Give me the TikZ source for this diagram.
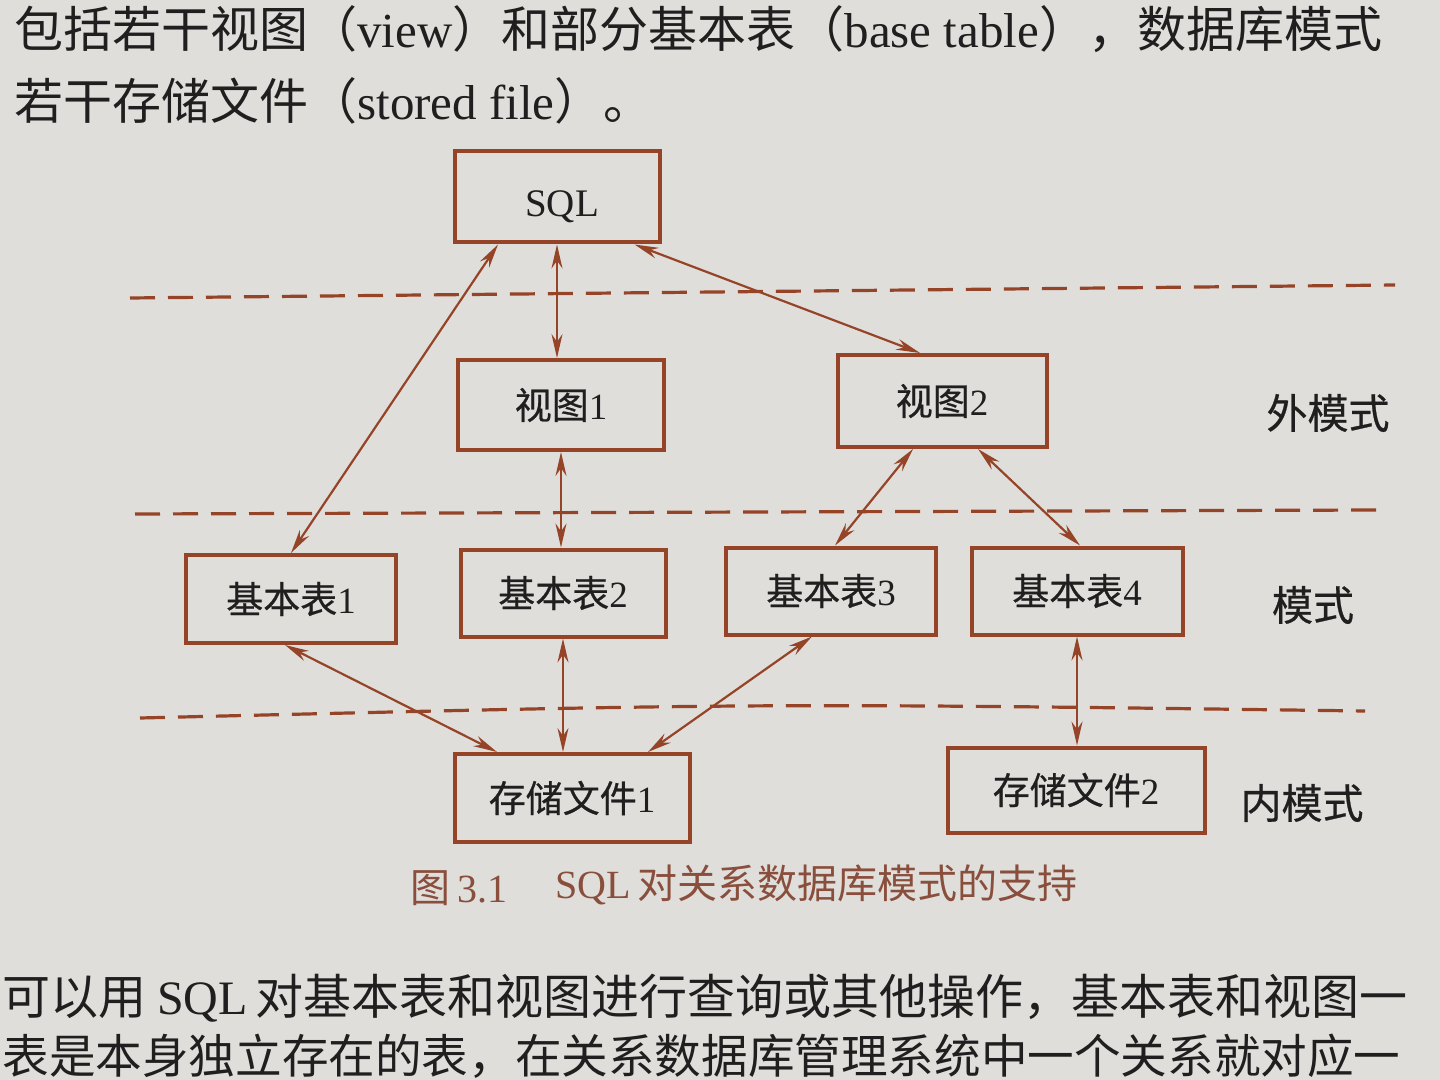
\documentclass[tikz,border=0pt]{standalone}
\usepackage{fontspec}
\setmainfont{Liberation Serif}
\newfontfamily\cjk{Noto Sans CJK SC}
\newfontfamily\cjkb[FakeBold=0.6]{Noto Sans CJK SC}
\usetikzlibrary{arrows.meta,calc}
\definecolor{brn}{RGB}{150,68,40}
\definecolor{paper}{RGB}{223,222,219}
\definecolor{ink}{RGB}{32,30,30}
\definecolor{capc}{RGB}{138,78,60}
\begin{document}
\begin{tikzpicture}[x=0.5pt,y=-0.5pt,
  box/.style={draw=brn,line width=2pt,inner sep=0pt,text=ink,
    font=\fontsize{18.5}{20}\selectfont},
  conn/.style={draw=brn,line width=1.1pt,
    {Stealth[length=12pt,width=5.5pt]}-{Stealth[length=12pt,width=5.5pt]}},
  dsh/.style={draw=brn,line width=1.6pt,dash pattern=on 12.5pt off 6.5pt},
  layer/.style={text=ink,font=\fontsize{20.5}{22}\selectfont\cjkb},
  body/.style={text=ink,inner sep=0pt,font=\fontsize{24.5}{26}\selectfont},
  bodyb/.style={text=ink,inner sep=0pt,font=\fontsize{23.3}{25}\selectfont},
  capt/.style={text=capc,inner sep=0pt,font=\fontsize{20}{22}\selectfont}]
\useasboundingbox (0,0) rectangle (1440,1080);
\fill[paper] (0,0) rectangle (1440,1080);

% body text (page)
\node[body,anchor=west] (t1) at (14,29) {{\cjk 包括若干视图（}view{\cjk ）和部分基本表（}base table{\cjk ），数据库模式}};
\node[body,anchor=west] (t2) at (14,101) {{\cjk 若干存储文件（}stored file{\cjk ）。}};
\node[body,anchor=west,font=\fontsize{24}{26}\selectfont] (t3) at (2,998) {{\cjk 可以用 }SQL{\cjk \,对基本表和视图进行查询或其他操作，基本表和视图一}};
\node[bodyb,anchor=west] (t4) at (2,1056) {{\cjk 表是本身独立存在的表，在关系数据库管理系统中一个关系就对应一}};

% dashed level separators
\coordinate (d1l) at (130,298); \coordinate (d1r) at (1395,285);
\coordinate (d2l) at (135,514); \coordinate (d2r) at (1380,510);
\coordinate (d3l) at (140,718); \coordinate (d3m) at (760,703); \coordinate (d3r) at (1365,711);
\draw[dsh] (d1l) -- (d1r);
\draw[dsh] (d2l) -- (d2r);
\draw[dsh] (d3l) .. controls (d3m) .. (d3r);

% boxes
\node[box,minimum width=102.5pt,minimum height=45.5pt] (sql) at (557,197) {};
\node[text=ink,inner sep=0pt,font=\fontsize{19.5}{21}\selectfont] (sqlt) at (562,207) {SQL};
\node[box,minimum width=103pt,minimum height=45pt] (v1) at (561,405) {{\cjkb 视图}1};
\node[box,minimum width=104.5pt,minimum height=46pt] (v2) at (942,401) {{\cjkb 视图}2};
\node[box,minimum width=105pt,minimum height=44pt] (b1) at (291,599) {{\cjkb 基本表}1};
\node[box,minimum width=102.5pt,minimum height=43.5pt] (b2) at (563,593) {{\cjkb 基本表}2};
\node[box,minimum width=105pt,minimum height=43.5pt] (b3) at (831,591) {{\cjkb 基本表}3};
\node[box,minimum width=105.5pt,minimum height=43.5pt] (b4) at (1077,591) {{\cjkb 基本表}4};
\node[box,minimum width=117.5pt,minimum height=44pt] (f1) at (572,798) {{\cjkb 存储文件}1};
\node[box,minimum width=128.5pt,minimum height=42.5pt] (f2) at (1076,790) {{\cjkb 存储文件}2};

% layer labels
\node[layer] (lo) at (1328,413) {外模式};
\node[layer] (lm) at (1313,605) {模式};
\node[layer] (li) at (1302,803) {内模式};

% connectors
\draw[conn] ($(sql.south)+(-59,0)$) -- (b1.north);
\draw[conn] (sql.south) -- (sql.south |- v1.north);
\draw[conn] ($(sql.south east)+(-27,0)$) -- ($(v2.north)+(-22,0)$);
\draw[conn] (v1.south) -- (v1.south |- b2.north);
\draw[conn] ($(v2.south)+(-29,0)$) -- ($(b3.north)+(4,0)$);
\draw[conn] ($(v2.south)+(36,0)$) -- ($(b4.north)+(3,0)$);
\draw[conn] ($(b1.south)+(-6,0)$) -- ($(f1.north)+(-75,0)$);
\draw[conn] (b2.south) -- (b2.south |- f1.north);
\draw[conn] ($(b3.south)+(-19,0)$) -- ($(f1.north)+(76,0)$);
\draw[conn] (b4.south) -- (b4.south |- f2.north);

% caption
\node[capt,anchor=west] (c1) at (410,888) {{\cjk 图}\,3.1};
\node[capt,anchor=west] (c2) at (555,885) {SQL\,{\cjk 对关系数据库模式的支持}};
\end{tikzpicture}
\end{document}
